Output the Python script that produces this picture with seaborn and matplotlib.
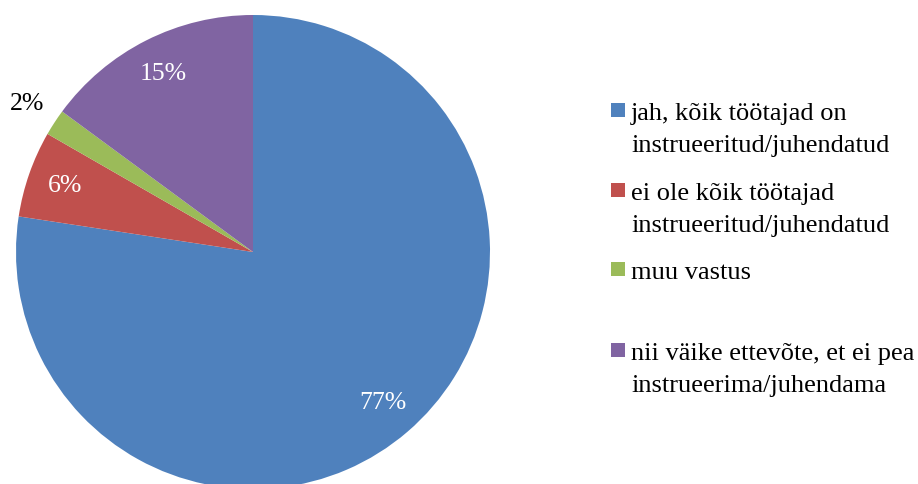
import matplotlib
matplotlib.use("Agg")
import matplotlib.pyplot as plt
import seaborn as sns
import numpy as np
from matplotlib.patches import Rectangle
from matplotlib import font_manager

# data
labels = ["jah, kõik töötajad on\ninstrueeritud/juhendatud",
          "ei ole kõik töötajad\ninstrueeritud/juhendatud",
          "muu vastus",
          "nii väike ettevõte, et ei pea\ninstrueerima/juhendama"]
shares = [77.4, 5.9, 1.8, 14.9]
pct_labels = ["77%", "6%", "2%", "15%"]
colors = ["#4F81BD", "#C0504D", "#9BBB59", "#8064A2"]

sns.set_theme(style="white")
plt.rcParams["font.family"] = "serif"
plt.rcParams["font.serif"] = ["Liberation Serif", "Times New Roman", "DejaVu Serif"]

W, H = 918, 484
fig = plt.figure(figsize=(W / 100, H / 100), dpi=100)

# pie axes: centre (253, 252) px, radius 237 px
cx, cy, r = 253, 252, 237
ax = fig.add_axes([(cx - r) / W, (H - cy - r) / H, 2 * r / W, 2 * r / H])
wedges, _ = ax.pie(shares, colors=colors, startangle=90, counterclock=False,
                   radius=1, wedgeprops=dict(linewidth=0))
ax.set_xlim(-1, 1)
ax.set_ylim(-1, 1)
ax.set_aspect("equal")
ax.axis("off")

# percentage labels placed at each wedge's middle angle
for w, txt in zip(wedges, pct_labels):
    mid = np.deg2rad((w.theta1 + w.theta2) / 2)
    if txt == "2%":
        d, col = 1.14, "black"
    else:
        d, col = 0.84, "white"
    ax.text(d * np.cos(mid), d * np.sin(mid), txt, ha="center", va="center",
            fontsize=18.5, color=col, clip_on=False)

# legend drawn Excel-style: fixed slot per entry, marker at first line
base_y = [120, 200, 279, 360]
for lab, col, by in zip(labels, colors, base_y):
    fig.patches.append(Rectangle((611 / W, 1 - (by - 3) / H), 14 / W, 14 / H,
                                 transform=fig.transFigure, facecolor=col,
                                 edgecolor="none"))
    for i, line in enumerate(lab.split("\n")):
        fig.text(631 / W, 1 - (by + i * 32) / H, line, ha="left",
                 va="baseline", fontsize=19, color="black")

fig.savefig("out.png", dpi=100, facecolor="white")
